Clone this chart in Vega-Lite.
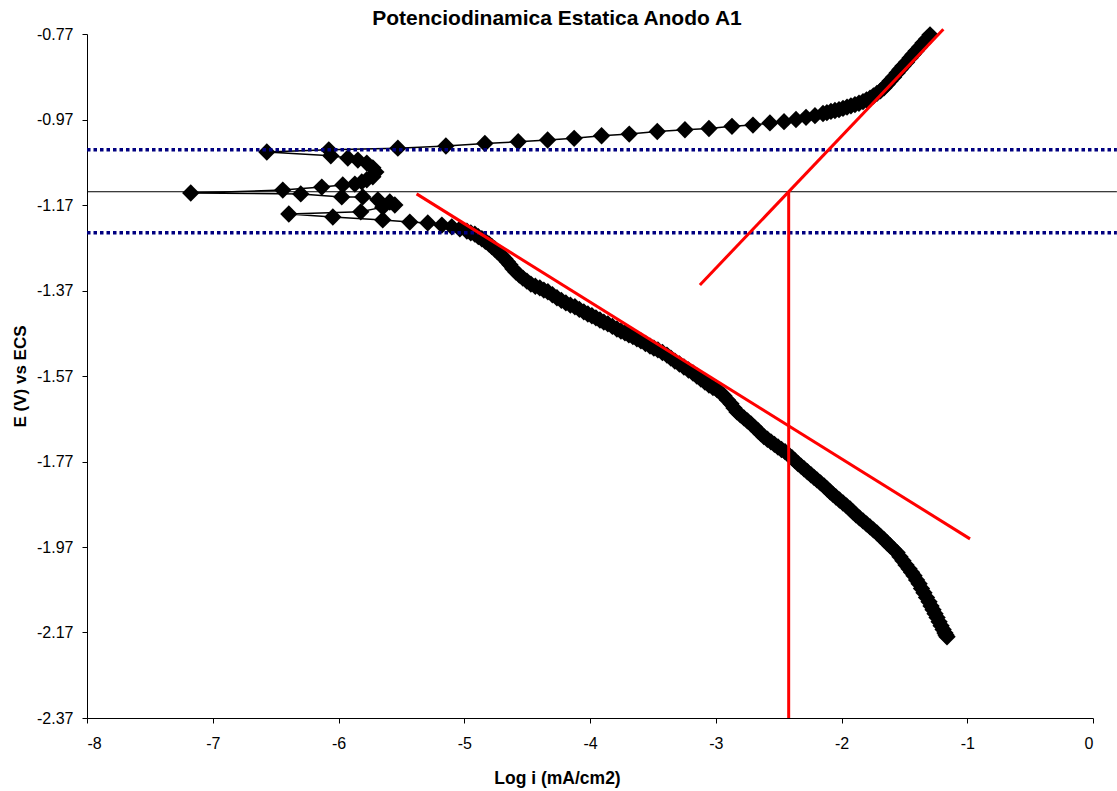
{
  "$schema": "https://vega.github.io/schema/vega-lite/v6.json",
  "autosize": "none",
  "width": 1006,
  "height": 684,
  "padding": {"left": 87, "top": 34, "right": 24, "bottom": 73},
  "background": "white",
  "config": {"view": {"stroke": null}, "font": "Liberation Sans"},
  "title": {"text": "Potenciodinamica Estatica Anodo A1", "font": "Liberation Sans", "fontSize": 21, "fontWeight": "bold", "color": "black", "anchor": "middle", "frame": "group", "dx": -33, "offset": 6, "dy": 12},
  "datasets": {
    "curve": [
      {"i":1,"logi":-1.161,"E":-2.180},{"i":2,"logi":-1.177,"E":-2.171},{"i":3,"logi":-1.208,"E":-2.154},{"i":4,"logi":-1.240,"E":-2.135},
      {"i":5,"logi":-1.272,"E":-2.117},{"i":6,"logi":-1.304,"E":-2.098},{"i":7,"logi":-1.344,"E":-2.077},{"i":8,"logi":-1.383,"E":-2.056},
      {"i":9,"logi":-1.423,"E":-2.037},{"i":10,"logi":-1.463,"E":-2.021},{"i":11,"logi":-1.511,"E":-2.002},{"i":12,"logi":-1.558,"E":-1.983},
      {"i":13,"logi":-1.614,"E":-1.967},{"i":14,"logi":-1.662,"E":-1.953},{"i":15,"logi":-1.718,"E":-1.937},{"i":16,"logi":-1.773,"E":-1.923},
      {"i":17,"logi":-1.829,"E":-1.909},{"i":18,"logi":-1.885,"E":-1.895},{"i":19,"logi":-1.932,"E":-1.881},{"i":20,"logi":-1.988,"E":-1.867},
      {"i":21,"logi":-2.044,"E":-1.853},{"i":22,"logi":-2.091,"E":-1.841},{"i":23,"logi":-2.139,"E":-1.827},{"i":24,"logi":-2.195,"E":-1.813},
      {"i":25,"logi":-2.243,"E":-1.801},{"i":26,"logi":-2.298,"E":-1.787},{"i":27,"logi":-2.346,"E":-1.775},{"i":28,"logi":-2.394,"E":-1.761},
      {"i":29,"logi":-2.449,"E":-1.747},{"i":30,"logi":-2.505,"E":-1.736},{"i":31,"logi":-2.561,"E":-1.724},{"i":32,"logi":-2.617,"E":-1.712},
      {"i":33,"logi":-2.664,"E":-1.698},{"i":34,"logi":-2.720,"E":-1.682},{"i":35,"logi":-2.776,"E":-1.668},{"i":36,"logi":-2.831,"E":-1.654},
      {"i":37,"logi":-2.879,"E":-1.635},{"i":38,"logi":-2.935,"E":-1.616},{"i":39,"logi":-2.990,"E":-1.602},{"i":40,"logi":-3.054,"E":-1.591},
      {"i":41,"logi":-3.118,"E":-1.577},{"i":42,"logi":-3.181,"E":-1.563},{"i":43,"logi":-3.253,"E":-1.549},{"i":44,"logi":-3.325,"E":-1.535},
      {"i":45,"logi":-3.388,"E":-1.521},{"i":46,"logi":-3.460,"E":-1.509},{"i":47,"logi":-3.523,"E":-1.500},{"i":48,"logi":-3.595,"E":-1.488},
      {"i":49,"logi":-3.659,"E":-1.478},{"i":50,"logi":-3.722,"E":-1.469},{"i":51,"logi":-3.786,"E":-1.460},{"i":52,"logi":-3.858,"E":-1.448},
      {"i":53,"logi":-3.921,"E":-1.439},{"i":54,"logi":-3.985,"E":-1.429},{"i":55,"logi":-4.049,"E":-1.420},{"i":56,"logi":-4.120,"E":-1.408},
      {"i":57,"logi":-4.192,"E":-1.399},{"i":58,"logi":-4.263,"E":-1.387},{"i":59,"logi":-4.335,"E":-1.373},{"i":60,"logi":-4.399,"E":-1.364},
      {"i":61,"logi":-4.470,"E":-1.355},{"i":62,"logi":-4.534,"E":-1.341},{"i":63,"logi":-4.589,"E":-1.327},{"i":64,"logi":-4.637,"E":-1.310},
      {"i":65,"logi":-4.677,"E":-1.296},{"i":66,"logi":-4.717,"E":-1.284},{"i":67,"logi":-4.757,"E":-1.273},{"i":68,"logi":-4.804,"E":-1.261},
      {"i":69,"logi":-4.860,"E":-1.249},{"i":70,"logi":-4.916,"E":-1.238},{"i":71,"logi":-4.979,"E":-1.231},{"i":72,"logi":-5.035,"E":-1.226},
      {"i":73,"logi":-5.099,"E":-1.221},{"i":74,"logi":-5.178,"E":-1.217},{"i":75,"logi":-5.290,"E":-1.212},{"i":76,"logi":-5.433,"E":-1.210},
      {"i":77,"logi":-5.648,"E":-1.205},{"i":78,"logi":-6.045,"E":-1.198},{"i":79,"logi":-6.395,"E":-1.191},{"i":80,"logi":-5.823,"E":-1.186},
      {"i":81,"logi":-5.648,"E":-1.175},{"i":82,"logi":-5.552,"E":-1.170},{"i":83,"logi":-5.592,"E":-1.163},{"i":84,"logi":-5.687,"E":-1.158},
      {"i":85,"logi":-5.807,"E":-1.151},{"i":86,"logi":-5.974,"E":-1.151},{"i":87,"logi":-6.300,"E":-1.144},{"i":88,"logi":-7.175,"E":-1.142},
      {"i":89,"logi":-6.443,"E":-1.135},{"i":90,"logi":-6.133,"E":-1.128},{"i":91,"logi":-5.966,"E":-1.123},{"i":92,"logi":-5.870,"E":-1.121},
      {"i":93,"logi":-5.815,"E":-1.116},{"i":94,"logi":-5.775,"E":-1.111},{"i":95,"logi":-5.727,"E":-1.104},{"i":96,"logi":-5.703,"E":-1.093},
      {"i":97,"logi":-5.727,"E":-1.083},{"i":98,"logi":-5.775,"E":-1.072},{"i":99,"logi":-5.846,"E":-1.065},{"i":100,"logi":-5.926,"E":-1.060},
      {"i":101,"logi":-6.061,"E":-1.055},{"i":102,"logi":-6.570,"E":-1.046},{"i":103,"logi":-6.077,"E":-1.041},{"i":104,"logi":-5.528,"E":-1.037},
      {"i":105,"logi":-5.146,"E":-1.032},{"i":106,"logi":-4.836,"E":-1.026},{"i":107,"logi":-4.571,"E":-1.022},{"i":108,"logi":-4.337,"E":-1.018},
      {"i":109,"logi":-4.126,"E":-1.014},{"i":110,"logi":-3.908,"E":-1.008},{"i":111,"logi":-3.688,"E":-1.004},{"i":112,"logi":-3.465,"E":-0.998},
      {"i":113,"logi":-3.245,"E":-0.994},{"i":114,"logi":-3.054,"E":-0.991},{"i":115,"logi":-2.871,"E":-0.986},{"i":116,"logi":-2.704,"E":-0.983},
      {"i":117,"logi":-2.569,"E":-0.978},{"i":118,"logi":-2.457,"E":-0.975},{"i":119,"logi":-2.362,"E":-0.970},{"i":120,"logi":-2.282,"E":-0.965},
      {"i":121,"logi":-2.211,"E":-0.961},{"i":122,"logi":-2.147,"E":-0.956},{"i":123,"logi":-2.084,"E":-0.951},{"i":124,"logi":-2.020,"E":-0.947},
      {"i":125,"logi":-1.956,"E":-0.941},{"i":126,"logi":-1.893,"E":-0.935},{"i":127,"logi":-1.829,"E":-0.928},{"i":128,"logi":-1.773,"E":-0.920},
      {"i":129,"logi":-1.718,"E":-0.909},{"i":130,"logi":-1.662,"E":-0.896},{"i":131,"logi":-1.614,"E":-0.880},{"i":132,"logi":-1.558,"E":-0.861},
      {"i":133,"logi":-1.511,"E":-0.845},{"i":134,"logi":-1.455,"E":-0.826},{"i":135,"logi":-1.407,"E":-0.810},{"i":136,"logi":-1.352,"E":-0.791},
      {"i":137,"logi":-1.296,"E":-0.772},
      {"i":1.5,"logi":-1.169,"E":-2.176},{"i":2.5,"logi":-1.192,"E":-2.163},{"i":3.5,"logi":-1.224,"E":-2.145},{"i":4.5,"logi":-1.256,"E":-2.126},
      {"i":5.5,"logi":-1.288,"E":-2.108},{"i":6.5,"logi":-1.324,"E":-2.088},{"i":7.5,"logi":-1.364,"E":-2.067},{"i":8.5,"logi":-1.403,"E":-2.047},
      {"i":9.5,"logi":-1.443,"E":-2.029},{"i":10.5,"logi":-1.487,"E":-2.012},{"i":11.5,"logi":-1.535,"E":-1.993},{"i":12.5,"logi":-1.586,"E":-1.975},
      {"i":13.5,"logi":-1.638,"E":-1.960},{"i":14.5,"logi":-1.690,"E":-1.945},{"i":15.5,"logi":-1.746,"E":-1.930},{"i":16.5,"logi":-1.801,"E":-1.916},
      {"i":17.5,"logi":-1.857,"E":-1.902},{"i":18.5,"logi":-1.909,"E":-1.888},{"i":19.5,"logi":-1.960,"E":-1.874},{"i":20.5,"logi":-2.016,"E":-1.860},
      {"i":21.5,"logi":-2.068,"E":-1.847},{"i":22.5,"logi":-2.115,"E":-1.834},{"i":23.5,"logi":-2.167,"E":-1.820},{"i":24.5,"logi":-2.219,"E":-1.807},
      {"i":25.5,"logi":-2.271,"E":-1.794},{"i":26.5,"logi":-2.322,"E":-1.781},{"i":27.5,"logi":-2.370,"E":-1.768},{"i":28.5,"logi":-2.422,"E":-1.754},
      {"i":29.5,"logi":-2.477,"E":-1.742},{"i":30.5,"logi":-2.533,"E":-1.730},{"i":31.5,"logi":-2.589,"E":-1.718},{"i":32.5,"logi":-2.641,"E":-1.705},
      {"i":33.5,"logi":-2.692,"E":-1.690},{"i":34.5,"logi":-2.748,"E":-1.675},{"i":35.5,"logi":-2.804,"E":-1.661},{"i":36.5,"logi":-2.855,"E":-1.645},
      {"i":37.5,"logi":-2.907,"E":-1.626},{"i":38.5,"logi":-2.963,"E":-1.609},{"i":39.5,"logi":-3.022,"E":-1.597},{"i":40.5,"logi":-3.086,"E":-1.584},
      {"i":41.5,"logi":-3.150,"E":-1.570},{"i":42.5,"logi":-3.217,"E":-1.556},{"i":43.5,"logi":-3.289,"E":-1.542},{"i":44.5,"logi":-3.357,"E":-1.528},
      {"i":45.5,"logi":-3.424,"E":-1.515},{"i":46.5,"logi":-3.492,"E":-1.505},{"i":47.5,"logi":-3.559,"E":-1.494},{"i":48.5,"logi":-3.627,"E":-1.483},
      {"i":49.5,"logi":-3.691,"E":-1.474},{"i":50.5,"logi":-3.754,"E":-1.465},{"i":51.5,"logi":-3.822,"E":-1.454},{"i":52.5,"logi":-3.890,"E":-1.444},
      {"i":53.5,"logi":-3.953,"E":-1.434},{"i":54.5,"logi":-4.017,"E":-1.425},{"i":55.5,"logi":-4.085,"E":-1.414},{"i":56.5,"logi":-4.156,"E":-1.404},
      {"i":57.5,"logi":-4.228,"E":-1.393},{"i":58.5,"logi":-4.299,"E":-1.380},{"i":59.5,"logi":-4.367,"E":-1.369},{"i":60.5,"logi":-4.435,"E":-1.360},
      {"i":61.5,"logi":-4.502,"E":-1.348},{"i":62.5,"logi":-4.562,"E":-1.334},{"i":63.5,"logi":-4.613,"E":-1.319},{"i":64.5,"logi":-4.657,"E":-1.303},
      {"i":65.5,"logi":-4.697,"E":-1.290},{"i":66.5,"logi":-4.737,"E":-1.279},{"i":67.5,"logi":-4.781,"E":-1.267},{"i":68.5,"logi":-4.832,"E":-1.255},
      {"i":69.5,"logi":-4.888,"E":-1.244},{"i":70.5,"logi":-4.948,"E":-1.235},
      {"i":122.5,"logi":-2.116,"E":-0.954},{"i":123.5,"logi":-2.052,"E":-0.949},
      {"i":124.5,"logi":-1.988,"E":-0.944},{"i":125.5,"logi":-1.925,"E":-0.938},{"i":126.5,"logi":-1.861,"E":-0.932},{"i":127.5,"logi":-1.801,"E":-0.924},
      {"i":128.5,"logi":-1.746,"E":-0.915},{"i":129.5,"logi":-1.690,"E":-0.903},{"i":130.5,"logi":-1.638,"E":-0.888},{"i":131.5,"logi":-1.586,"E":-0.871},
      {"i":132.5,"logi":-1.535,"E":-0.853},{"i":133.5,"logi":-1.483,"E":-0.836},{"i":134.5,"logi":-1.431,"E":-0.818},{"i":135.5,"logi":-1.380,"E":-0.801},
      {"i":136.5,"logi":-1.324,"E":-0.782}
    ],
    "guides": [
      {"g":"ecorr","k":1,"logi":-8,"E":-1.139},{"g":"ecorr","k":2,"logi":0.19,"E":-1.139},
      {"g":"b1","k":1,"logi":-8,"E":-1.041},{"g":"b1","k":2,"logi":0.19,"E":-1.041},
      {"g":"b2","k":1,"logi":-8,"E":-1.235},{"g":"b2","k":2,"logi":0.19,"E":-1.235},
      {"g":"tafel_a","k":1,"logi":-3.126,"E":-1.357},{"g":"tafel_a","k":2,"logi":-1.190,"E":-0.759},
      {"g":"tafel_c","k":1,"logi":-5.379,"E":-1.144},{"g":"tafel_c","k":2,"logi":-0.978,"E":-1.951},
      {"g":"icorr","k":1,"logi":-2.42,"E":-1.139},{"g":"icorr","k":2,"logi":-2.42,"E":-2.37}
    ]
  },
  "encoding": {
    "x": {"field": "logi", "type": "quantitative",
      "scale": {"domain": [-8, 0], "nice": false, "zero": false},
      "axis": {"values": [-8,-7,-6,-5,-4,-3,-2,-1,0], "format": "d", "labelExpr": "replace(datum.label, '\u2212', '-')", "grid": false, "domainColor": "black", "tickColor": "black", "tickSize": 5, "labelFontSize": 16, "labelColor": "black", "labelFont": "Liberation Sans", "labelPadding": 12, "title": "Log i (mA/cm2)", "titleFont": "Liberation Sans", "titleFontSize": 17.5, "titleFontWeight": "bold", "titleColor": "black", "titleBaseline": "alphabetic", "titleY": 65, "titleX": 470}},
    "y": {"field": "E", "type": "quantitative",
      "scale": {"domain": [-2.37, -0.77], "nice": false, "zero": false},
      "axis": {"values": [-0.77,-0.97,-1.17,-1.37,-1.57,-1.77,-1.97,-2.17,-2.37], "format": ".2f", "labelExpr": "replace(datum.label, '\u2212', '-')", "grid": false, "domainColor": "black", "tickColor": "black", "tickSize": 5, "labelFontSize": 16, "labelColor": "black", "labelFont": "Liberation Sans", "labelPadding": 9, "title": "E (V) vs ECS", "titleFont": "Liberation Sans", "titleFontSize": 17, "titleFontWeight": "bold", "titleColor": "black", "titleAngle": -90, "titleBaseline": "alphabetic", "titleAlign": "center", "titleX": -62, "titleY": 342}}
  },
  "layer": [
    {
      "data": {"name": "curve"},
      "mark": {"type": "line", "color": "black", "strokeWidth": 1.5},
      "encoding": {"order": {"field": "i", "type": "quantitative"}}
    },
    {
      "data": {"name": "curve"},
      "mark": {"type": "point", "shape": "diamond", "filled": true, "color": "black", "size": 300, "opacity": 1}
    },
    {
      "data": {"name": "guides"},
      "transform": [{"filter": "datum.g === 'ecorr'"}],
      "mark": {"type": "line", "clip": false, "color": "#000000", "strokeWidth": 1},
      "encoding": {"order": {"field": "k", "type": "quantitative"}}
    },
    {
      "data": {"name": "guides"},
      "transform": [{"filter": "datum.g === 'b1' || datum.g === 'b2'"}],
      "mark": {"type": "line", "clip": false, "color": "#000080", "strokeWidth": 3.5, "strokeDash": [3.5, 3], "strokeCap": "butt"},
      "encoding": {"detail": {"field": "g"}, "order": {"field": "k", "type": "quantitative"}}
    },
    {
      "data": {"name": "guides"},
      "transform": [{"filter": "datum.g === 'tafel_a' || datum.g === 'tafel_c' || datum.g === 'icorr'"}],
      "mark": {"type": "line", "clip": false, "color": "#FF0000", "strokeWidth": 3},
      "encoding": {"detail": {"field": "g"}, "order": {"field": "k", "type": "quantitative"}}
    }
  ]
}
